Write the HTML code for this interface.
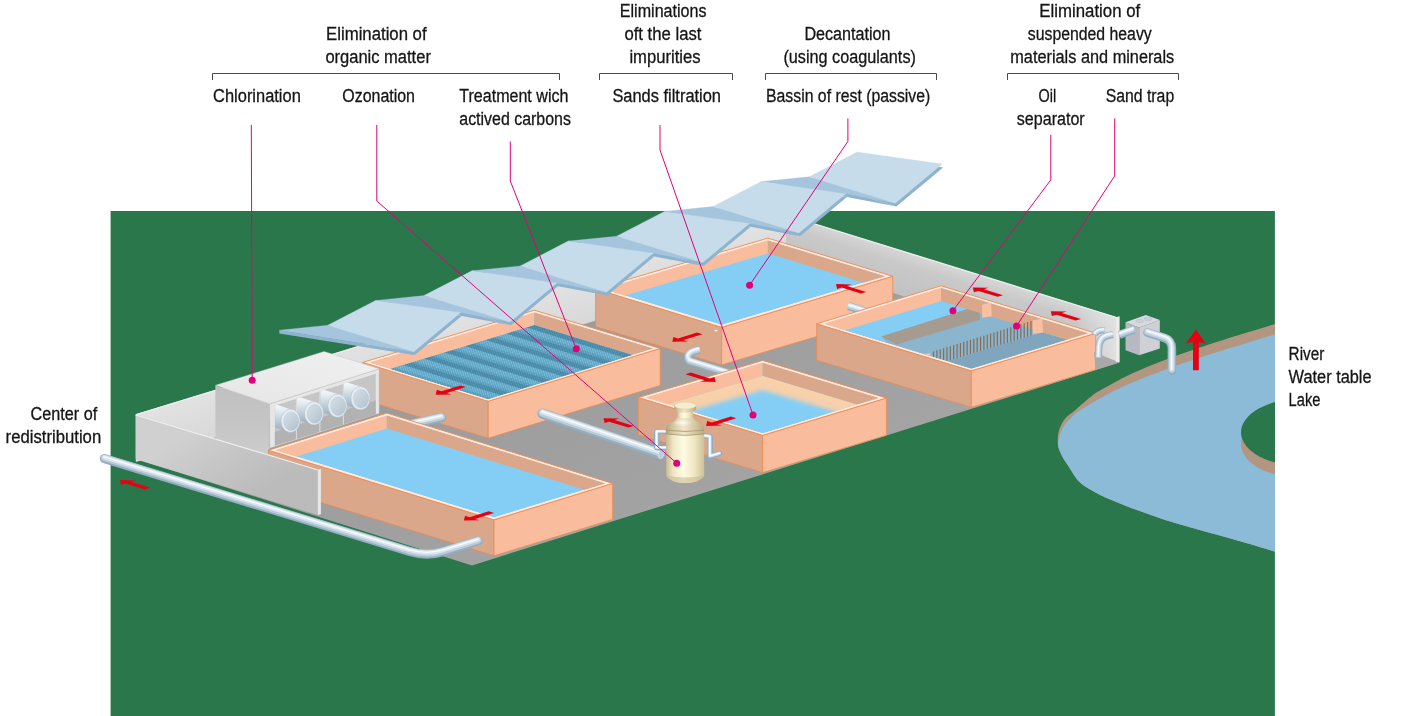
<!DOCTYPE html>
<html lang="en"><head><meta charset="utf-8"><title>Water treatment plant</title>
<style>
html,body{margin:0;padding:0;background:#fff;}
svg{display:block;}
</style></head>
<body>
<svg width="1423" height="716" viewBox="0 0 1423 716">
<defs>
<clipPath id="gclip"><rect x="110.5" y="211" width="1164.5" height="505"/></clipPath>
<clipPath id="holeclip"><path d="M1290.0,319.0 C1287.5,319.8 1282.2,321.8 1275.0,324.0 C1267.8,326.2 1256.2,329.7 1247.0,332.5 C1237.8,335.3 1231.8,337.1 1219.8,341.0 C1207.8,344.9 1188.9,351.0 1174.8,356.2 C1160.7,361.4 1146.2,367.2 1135.4,372.0 C1124.6,376.8 1117.0,381.2 1110.0,385.0 C1103.0,388.8 1099.0,390.7 1093.3,394.8 C1087.6,398.9 1080.7,405.5 1076.0,409.5 C1071.3,413.5 1067.9,415.2 1065.1,418.6 C1062.3,422.0 1060.4,426.6 1059.2,430.0 C1058.0,433.4 1057.9,436.1 1057.8,439.0 C1057.7,441.9 1057.8,444.7 1058.6,447.7 C1059.4,450.7 1060.9,453.8 1062.6,456.9 C1064.2,460.0 1065.8,462.1 1068.5,466.2 C1071.2,470.3 1075.1,477.4 1079.0,481.5 C1082.9,485.6 1087.3,487.7 1092.0,490.5 C1096.7,493.3 1100.1,495.1 1107.3,498.3 C1114.5,501.5 1126.0,506.1 1135.4,509.6 C1144.8,513.1 1154.2,516.4 1163.6,519.4 C1173.0,522.4 1182.3,525.1 1191.7,527.8 C1201.1,530.5 1210.4,533.0 1219.8,535.6 C1229.2,538.2 1238.7,540.9 1247.9,543.6 C1257.1,546.3 1268.0,549.6 1275.0,551.7 C1282.0,553.8 1287.5,555.3 1290.0,556.0 Z"/></clipPath>
<linearGradient id="platg" gradientUnits="userSpaceOnUse" x1="500" y1="300" x2="640" y2="620"><stop offset="0" stop-color="#9a9a9a"/><stop offset="1" stop-color="#a6a6a6"/></linearGradient>
<linearGradient id="bwg" x1="0" y1="0" x2="0" y2="1"><stop offset="0" stop-color="#e4e4e4"/><stop offset="1" stop-color="#d6d6d6"/></linearGradient>
<linearGradient id="bwg2" gradientUnits="userSpaceOnUse" x1="300" y1="364" x2="314" y2="410"><stop offset="0" stop-color="#e2e2e2"/><stop offset="1" stop-color="#d7d7d7"/></linearGradient>
<linearGradient id="rwg" gradientUnits="userSpaceOnUse" x1="950" y1="262" x2="936" y2="307"><stop offset="0" stop-color="#dadada"/><stop offset="0.35" stop-color="#c9c9c9"/><stop offset="1" stop-color="#c1c1c1"/></linearGradient>
<linearGradient id="rwend" gradientUnits="userSpaceOnUse" x1="1075" y1="0" x2="1116" y2="0"><stop offset="0" stop-color="#e2e2e2" stop-opacity="0"/><stop offset="1" stop-color="#e2e2e2" stop-opacity="0.95"/></linearGradient>
<clipPath id="c1"><polygon points="603.3,289.0 767.9,240.4 885.1,276.3 721.6,325.0"/></clipPath>
<clipPath id="c2"><polygon points="824.2,323.8 941.1,288.1 1088.1,333.2 971.3,368.5"/></clipPath>
<clipPath id="c3"><polygon points="370.0,362.4 534.4,312.4 653.0,348.4 488.2,399.0"/></clipPath>
<clipPath id="t2c"><polygon points="370.0,375.0 534.4,325.0 653.0,361.0 488.2,411.6"/></clipPath>
<linearGradient id="blf" x1="0" y1="0" x2="0" y2="1"><stop offset="0" stop-color="#c0c0c0"/><stop offset="0.6" stop-color="#c6c6c6"/><stop offset="1" stop-color="#cdcdcd"/></linearGradient>
<clipPath id="bopen"><polygon points="274.6,405.4 375.9,373.4 375.9,414.4 274.6,446.0"/></clipPath>
<linearGradient id="cylg" x1="0" y1="0" x2="0" y2="1"><stop offset="0" stop-color="#ffffff"/><stop offset="0.3" stop-color="#e6eef3"/><stop offset="0.7" stop-color="#b7c7d3"/><stop offset="1" stop-color="#93a9bb"/></linearGradient>
<linearGradient id="capg" x1="0" y1="0" x2="1" y2="1"><stop offset="0" stop-color="#d6e0e7"/><stop offset="1" stop-color="#b0c1ce"/></linearGradient>
<clipPath id="bay3"><rect x="343.9" y="340" width="80" height="120"/></clipPath>
<clipPath id="bay2"><rect x="320.5" y="340" width="80" height="120"/></clipPath>
<clipPath id="bay1"><rect x="297.0" y="340" width="80" height="120"/></clipPath>
<clipPath id="bay0"><rect x="275.2" y="340" width="80" height="120"/></clipPath>
<linearGradient id="btop" x1="0" y1="1" x2="1" y2="0"><stop offset="0" stop-color="#e6e6e6"/><stop offset="1" stop-color="#f0f0f0"/></linearGradient>
<filter id="blur5" x="-20%" y="-20%" width="140%" height="140%"><feGaussianBlur stdDeviation="2.6"/></filter>
<clipPath id="c4"><polygon points="645.9,397.5 762.7,362.7 878.8,398.0 762.7,433.0"/></clipPath>
<linearGradient id="vesg" x1="0" y1="0" x2="1" y2="0"><stop offset="0" stop-color="#c9ba94"/><stop offset="0.18" stop-color="#efe6c4"/><stop offset="0.45" stop-color="#fffbe4"/><stop offset="0.75" stop-color="#efe5c0"/><stop offset="1" stop-color="#cfc09a"/></linearGradient>
<linearGradient id="vesg2" x1="0" y1="0" x2="1" y2="0"><stop offset="0" stop-color="#b5a680"/><stop offset="0.2" stop-color="#d8cca6"/><stop offset="0.45" stop-color="#efe7c8"/><stop offset="0.75" stop-color="#d6c9a2"/><stop offset="1" stop-color="#b8a982"/></linearGradient>
<radialGradient id="vshine" cx="0.45" cy="0.45" r="0.5"><stop offset="0" stop-color="#ffffff" stop-opacity="0.85"/><stop offset="1" stop-color="#ffffff" stop-opacity="0"/></radialGradient>
<clipPath id="c5"><polygon points="275.7,450.2 386.9,415.4 605.2,483.4 494.0,517.5"/></clipPath>
<linearGradient id="lwg" gradientUnits="userSpaceOnUse" x1="200" y1="425" x2="250" y2="500"><stop offset="0" stop-color="#d0d0d0"/><stop offset="0.5" stop-color="#c5c5c5"/><stop offset="1" stop-color="#bbbbbb"/></linearGradient>
</defs>
<rect x="0" y="0" width="1423" height="716" fill="#ffffff"/>
<rect x="110.6" y="211" width="1164.3" height="505" fill="#2a774b"/>
<g clip-path="url(#gclip)">
<path d="M1290.0,319.0 C1287.5,319.8 1282.2,321.8 1275.0,324.0 C1267.8,326.2 1256.2,329.7 1247.0,332.5 C1237.8,335.3 1231.8,337.1 1219.8,341.0 C1207.8,344.9 1188.9,351.0 1174.8,356.2 C1160.7,361.4 1146.2,367.2 1135.4,372.0 C1124.6,376.8 1117.0,381.2 1110.0,385.0 C1103.0,388.8 1099.0,390.7 1093.3,394.8 C1087.6,398.9 1080.7,405.5 1076.0,409.5 C1071.3,413.5 1067.9,415.2 1065.1,418.6 C1062.3,422.0 1060.4,426.6 1059.2,430.0 C1058.0,433.4 1057.9,436.1 1057.8,439.0 C1057.7,441.9 1057.8,444.7 1058.6,447.7 C1059.4,450.7 1060.9,453.8 1062.6,456.9 C1064.2,460.0 1065.8,462.1 1068.5,466.2 C1071.2,470.3 1075.1,477.4 1079.0,481.5 C1082.9,485.6 1087.3,487.7 1092.0,490.5 C1096.7,493.3 1100.1,495.1 1107.3,498.3 C1114.5,501.5 1126.0,506.1 1135.4,509.6 C1144.8,513.1 1154.2,516.4 1163.6,519.4 C1173.0,522.4 1182.3,525.1 1191.7,527.8 C1201.1,530.5 1210.4,533.0 1219.8,535.6 C1229.2,538.2 1238.7,540.9 1247.9,543.6 C1257.1,546.3 1268.0,549.6 1275.0,551.7 C1282.0,553.8 1287.5,555.3 1290.0,556.0 Z" fill="#b29682" />
<g clip-path="url(#holeclip)">
<path d="M1290.0,329.6 C1287.5,330.4 1282.2,332.2 1275.0,334.4 C1267.8,336.6 1256.2,340.2 1247.0,343.0 C1237.8,345.8 1231.4,347.6 1219.8,351.3 C1208.2,355.0 1191.7,360.3 1177.6,365.3 C1163.5,370.3 1146.7,376.7 1135.4,381.3 C1124.1,385.9 1117.2,389.4 1110.0,393.0 C1102.8,396.6 1097.1,400.0 1092.0,403.0 C1086.9,406.0 1082.8,408.5 1079.4,410.8 C1076.1,413.1 1074.3,414.7 1071.9,416.9 C1069.5,419.1 1067.0,421.6 1065.1,424.2 C1063.2,426.8 1061.7,430.1 1060.6,432.6 C1059.5,435.1 1059.5,437.1 1058.7,439.3 C1057.9,441.5 1056.5,444.9 1056.0,446.0 L1040,450 L1040,570 L1290,570 Z" fill="#8bbbd7"/>
<ellipse cx="1302" cy="444.3" rx="61" ry="33.7" fill="#b29682"/>
<ellipse cx="1302" cy="432.3" rx="61" ry="33.7" fill="#2a774b"/>
</g>
</g>
<polygon points="136.0,459.0 472.0,565.4 1119.4,362.5 786.0,258.0" fill="url(#platg)" />
<polygon points="135.8,414.3 786.0,215.0 786.0,262.0 135.8,462.0" fill="url(#bwg2)" />
<path d="M135.8,414.6 L786,215.3" fill="none" stroke="#f2f2f2" stroke-width="1" />
<polygon points="786.0,215.0 1116.0,317.3 1116.0,361.8 786.0,260.0" fill="url(#rwg)" />
<polygon points="1075.0,304.6 1116.0,317.3 1116.0,361.8 1075.0,349.1" fill="url(#rwend)" />
<path d="M786,215 L1116,317.3" fill="none" stroke="#f4f4f4" stroke-width="1.2" />
<polygon points="1116.0,317.3 1119.4,316.6 1119.4,362.3 1116.0,361.8" fill="#ececec" />
<polygon points="595.6,289.0 721.6,327.3 721.6,364.9 595.6,326.6" fill="#dba78b" stroke="#ee8a50" stroke-width="0.8" stroke-linejoin="round" />
<polygon points="721.6,327.3 892.7,276.3 892.7,313.9 721.6,364.9" fill="#f9bd9d" stroke="#ee8a50" stroke-width="0.8" stroke-linejoin="round" />
<polygon points="595.6,289.0 767.9,238.1 892.7,276.3 721.6,327.3" fill="#fdebe0" stroke="#ee8a50" stroke-width="0.9" stroke-linejoin="round" />
<g clip-path="url(#c1)">
<polygon points="603.3,289.0 767.9,240.4 885.1,276.3 721.6,325.0" fill="#84cef5" />
<polygon points="600.3,288.0 767.9,238.4 767.9,253.4 603.3,302.0" fill="#f9bd9d" />
<polygon points="767.9,238.4 888.1,275.3 885.1,289.3 767.9,253.4" fill="#dba78b" />
</g>
<ellipse cx="716" cy="330.6" rx="1.7" ry="0.8" fill="#fdf3ec"/>
<path d="M848.5,306.2 L869,312.6" fill="none" stroke="#93adc1" stroke-width="8.2" stroke-linecap="butt" stroke-linejoin="round"/>
<path d="M848.5,306.2 L869,312.6" fill="none" stroke="#b9ccd9" stroke-width="6.23" stroke-linecap="butt" stroke-linejoin="round" transform="translate(-0.1,-0.74)"/>
<path d="M848.5,306.2 L869,312.6" fill="none" stroke="#dbe6ee" stroke-width="3.77" stroke-linecap="butt" stroke-linejoin="round" transform="translate(-0.2,-1.31)"/>
<path d="M848.5,306.2 L869,312.6" fill="none" stroke="#f9fbfd" stroke-width="1.23" stroke-linecap="butt" stroke-linejoin="round" transform="translate(-0.3,-1.64)"/>
<polygon points="816.7,323.8 971.3,370.8 971.3,407.3 816.7,360.3" fill="#dba78b" stroke="#ee8a50" stroke-width="0.8" stroke-linejoin="round" />
<polygon points="971.3,370.8 1095.7,333.2 1095.7,369.7 971.3,407.3" fill="#f9bd9d" stroke="#ee8a50" stroke-width="0.8" stroke-linejoin="round" />
<polygon points="816.7,323.8 941.1,285.8 1095.7,333.2 971.3,370.8" fill="#fdebe0" stroke="#ee8a50" stroke-width="0.9" stroke-linejoin="round" />
<g clip-path="url(#c2)">
<polygon points="824.2,323.8 941.1,288.1 1088.1,333.2 971.3,368.5" fill="#84cef5" />
<polygon points="824.2,336.8 941.1,301.1 1088.1,346.2 971.3,381.5" fill="#8ab5cd" />
<polygon points="824.1,333.0 941.1,300.8 968.3,309.0 881.3,336.4 886.1,341.9 846.9,348.2" fill="#84cef5" />
<polygon points="948.1,361.1 1032.2,335.3 1042.9,332.4 1069.5,340.6 970.8,371.0" fill="#7fa6bd" />
<polygon points="881.3,336.4 968.3,308.8 979.9,310.2 979.9,319.7 896.5,344.6" fill="#a59b91" />
<polygon points="821.2,322.8 941.1,286.1 941.1,301.1 824.2,336.8" fill="#f9bd9d" />
<polygon points="941.1,286.1 1091.1,332.2 1088.1,346.2 941.1,301.1" fill="#dba78b" />
<rect x="932.95" y="351.35" width="1.14" height="6.32" fill="#876a53"/>
<rect x="936.31" y="350.30" width="1.14" height="8.22" fill="#876a53"/>
<rect x="939.67" y="349.26" width="1.14" height="10.11" fill="#876a53"/>
<rect x="943.03" y="348.21" width="1.14" height="12.01" fill="#876a53"/>
<rect x="946.39" y="347.16" width="1.14" height="13.90" fill="#876a53"/>
<rect x="949.74" y="346.11" width="1.14" height="13.98" fill="#876a53"/>
<rect x="953.10" y="345.07" width="1.14" height="14.01" fill="#876a53"/>
<rect x="956.46" y="344.02" width="1.14" height="14.03" fill="#876a53"/>
<rect x="959.82" y="342.97" width="1.14" height="14.05" fill="#876a53"/>
<rect x="963.18" y="341.93" width="1.14" height="14.08" fill="#876a53"/>
<rect x="966.54" y="340.88" width="1.14" height="14.10" fill="#876a53"/>
<rect x="969.90" y="339.83" width="1.14" height="14.12" fill="#876a53"/>
<rect x="973.25" y="338.79" width="1.14" height="14.15" fill="#876a53"/>
<rect x="976.61" y="337.74" width="1.14" height="14.17" fill="#876a53"/>
<rect x="979.97" y="336.69" width="1.14" height="14.19" fill="#876a53"/>
<rect x="983.33" y="335.65" width="1.14" height="14.22" fill="#876a53"/>
<rect x="986.69" y="334.60" width="1.14" height="14.24" fill="#876a53"/>
<rect x="990.05" y="333.55" width="1.14" height="14.26" fill="#876a53"/>
<rect x="993.41" y="332.51" width="1.14" height="14.29" fill="#876a53"/>
<rect x="996.76" y="331.46" width="1.14" height="14.31" fill="#876a53"/>
<rect x="1000.12" y="330.41" width="1.14" height="14.33" fill="#876a53"/>
<rect x="1003.48" y="329.36" width="1.14" height="14.36" fill="#876a53"/>
<rect x="1006.84" y="328.32" width="1.14" height="14.38" fill="#876a53"/>
<rect x="1010.20" y="327.27" width="1.14" height="14.40" fill="#876a53"/>
<rect x="1013.56" y="326.22" width="1.14" height="14.43" fill="#876a53"/>
<rect x="1016.92" y="325.18" width="1.14" height="14.45" fill="#876a53"/>
<rect x="1020.27" y="324.13" width="1.14" height="14.48" fill="#876a53"/>
<rect x="1023.63" y="323.08" width="1.14" height="14.50" fill="#876a53"/>
<rect x="1026.99" y="322.04" width="1.14" height="14.52" fill="#876a53"/>
<rect x="1030.35" y="320.99" width="1.14" height="14.55" fill="#876a53"/>
<polygon points="982.2,304.7 991.1,302.6 991.8,316.3 982.2,317.8" fill="#f9c0a1" />
<polygon points="1032.8,320.5 1042.4,318.5 1043.1,332.4 1032.8,334.1" fill="#f9c0a1" />
<polygon points="924.0,354.3 929.7,352.9 930.7,355.8 925.3,356.0" fill="#f9c0a1" />
</g>
<polygon points="1094.0,352.0 1119.4,362.5 1095.7,370.0" fill="#a9a9a9" />
<path d="M1094.5,334.9 Q1096.1,330.4 1104.5,330.2" fill="none" stroke="#93adc1" stroke-width="6.3" stroke-linecap="butt" stroke-linejoin="round"/>
<path d="M1094.5,334.9 Q1096.1,330.4 1104.5,330.2" fill="none" stroke="#b9ccd9" stroke-width="4.79" stroke-linecap="butt" stroke-linejoin="round" transform="translate(-0.1,-0.57)"/>
<path d="M1094.5,334.9 Q1096.1,330.4 1104.5,330.2" fill="none" stroke="#dbe6ee" stroke-width="2.90" stroke-linecap="butt" stroke-linejoin="round" transform="translate(-0.2,-1.01)"/>
<path d="M1094.5,334.9 Q1096.1,330.4 1104.5,330.2" fill="none" stroke="#f9fbfd" stroke-width="0.94" stroke-linecap="butt" stroke-linejoin="round" transform="translate(-0.3,-1.26)"/>
<path d="M1098.4,358.3 L1098.7,348.0 Q1099.4,337.8 1106.8,336.0 L1112.9,334.6" fill="none" stroke="#93adc1" stroke-width="7.2" stroke-linecap="butt" stroke-linejoin="round"/>
<path d="M1098.4,358.3 L1098.7,348.0 Q1099.4,337.8 1106.8,336.0 L1112.9,334.6" fill="none" stroke="#b9ccd9" stroke-width="5.47" stroke-linecap="butt" stroke-linejoin="round" transform="translate(-0.1,-0.65)"/>
<path d="M1098.4,358.3 L1098.7,348.0 Q1099.4,337.8 1106.8,336.0 L1112.9,334.6" fill="none" stroke="#dbe6ee" stroke-width="3.31" stroke-linecap="butt" stroke-linejoin="round" transform="translate(-0.2,-1.15)"/>
<path d="M1098.4,358.3 L1098.7,348.0 Q1099.4,337.8 1106.8,336.0 L1112.9,334.6" fill="none" stroke="#f9fbfd" stroke-width="1.08" stroke-linecap="butt" stroke-linejoin="round" transform="translate(-0.3,-1.44)"/>
<polygon points="1116.0,317.3 1119.4,316.6 1119.4,362.3 1116.0,361.8" fill="#ececec" />
<polygon points="1125.5,322.3 1139.2,327.4 1139.2,355.3 1125.5,350.3" fill="#b7b8c1" />
<polygon points="1139.2,327.4 1159.8,319.9 1159.8,348.6 1139.2,355.3" fill="#cfd0d6" />
<polygon points="1125.5,322.3 1145.9,315.1 1159.8,319.9 1139.2,327.4" fill="#d9dadf" />
<ellipse cx="1139.7" cy="321.0" rx="3.9" ry="1.8" fill="#cfd0d6" stroke="#b9bac3" stroke-width="0.5"/>
<ellipse cx="1147.9" cy="319.0" rx="3.9" ry="1.8" fill="#cfd0d6" stroke="#b9bac3" stroke-width="0.5"/>
<path d="M1119.3,334.9 L1134.1,329.5" fill="none" stroke="#93adc1" stroke-width="8.0" stroke-linecap="butt" stroke-linejoin="round"/>
<path d="M1119.3,334.9 L1134.1,329.5" fill="none" stroke="#b9ccd9" stroke-width="6.08" stroke-linecap="butt" stroke-linejoin="round" transform="translate(-0.1,-0.72)"/>
<path d="M1119.3,334.9 L1134.1,329.5" fill="none" stroke="#dbe6ee" stroke-width="3.68" stroke-linecap="butt" stroke-linejoin="round" transform="translate(-0.2,-1.28)"/>
<path d="M1119.3,334.9 L1134.1,329.5" fill="none" stroke="#f9fbfd" stroke-width="1.20" stroke-linecap="butt" stroke-linejoin="round" transform="translate(-0.3,-1.60)"/>
<path d="M1147.5,332.6 L1164.9,338.2 Q1171.9,340.4 1171.9,349.2 L1171.9,370.6" fill="none" stroke="#93adc1" stroke-width="8.6" stroke-linecap="round" stroke-linejoin="round"/>
<path d="M1147.5,332.6 L1164.9,338.2 Q1171.9,340.4 1171.9,349.2 L1171.9,370.6" fill="none" stroke="#b9ccd9" stroke-width="6.54" stroke-linecap="round" stroke-linejoin="round" transform="translate(-0.1,-0.77)"/>
<path d="M1147.5,332.6 L1164.9,338.2 Q1171.9,340.4 1171.9,349.2 L1171.9,370.6" fill="none" stroke="#dbe6ee" stroke-width="3.96" stroke-linecap="round" stroke-linejoin="round" transform="translate(-0.2,-1.38)"/>
<path d="M1147.5,332.6 L1164.9,338.2 Q1171.9,340.4 1171.9,349.2 L1171.9,370.6" fill="none" stroke="#f9fbfd" stroke-width="1.29" stroke-linecap="round" stroke-linejoin="round" transform="translate(-0.3,-1.72)"/>
<polygon points="362.8,362.4 488.2,401.2 488.2,438.2 362.8,399.4" fill="#dba78b" stroke="#ee8a50" stroke-width="0.8" stroke-linejoin="round" />
<polygon points="488.2,401.2 660.2,348.4 660.2,385.4 488.2,438.2" fill="#f9bd9d" stroke="#ee8a50" stroke-width="0.8" stroke-linejoin="round" />
<polygon points="362.8,362.4 534.4,310.2 660.2,348.4 488.2,401.2" fill="#fdebe0" stroke="#ee8a50" stroke-width="0.9" stroke-linejoin="round" />
<g clip-path="url(#c3)">
<polygon points="370.0,362.4 534.4,312.4 653.0,348.4 488.2,399.0" fill="#84cef5" />
<polygon points="370.0,375.0 534.4,325.0 653.0,361.0 488.2,411.6" fill="#35708c" />
<path d="M200.0,415.6 l175.0,-91.0 M202.2,415.6 l175.0,-91.0 M204.5,415.6 l175.0,-91.0 M206.7,415.6 l175.0,-91.0 M209.0,415.6 l175.0,-91.0 M211.2,415.6 l175.0,-91.0 M213.5,415.6 l175.0,-91.0 M215.7,415.6 l175.0,-91.0 M218.0,415.6 l175.0,-91.0 M220.2,415.6 l175.0,-91.0 M222.5,415.6 l175.0,-91.0 M224.7,415.6 l175.0,-91.0 M227.0,415.6 l175.0,-91.0 M229.2,415.6 l175.0,-91.0 M231.5,415.6 l175.0,-91.0 M233.7,415.6 l175.0,-91.0 M236.0,415.6 l175.0,-91.0 M238.2,415.6 l175.0,-91.0 M240.5,415.6 l175.0,-91.0 M242.7,415.6 l175.0,-91.0 M245.0,415.6 l175.0,-91.0 M247.2,415.6 l175.0,-91.0 M249.5,415.6 l175.0,-91.0 M251.7,415.6 l175.0,-91.0 M254.0,415.6 l175.0,-91.0 M256.2,415.6 l175.0,-91.0 M258.5,415.6 l175.0,-91.0 M260.7,415.6 l175.0,-91.0 M263.0,415.6 l175.0,-91.0 M265.2,415.6 l175.0,-91.0 M267.5,415.6 l175.0,-91.0 M269.7,415.6 l175.0,-91.0 M272.0,415.6 l175.0,-91.0 M274.2,415.6 l175.0,-91.0 M276.5,415.6 l175.0,-91.0 M278.7,415.6 l175.0,-91.0 M281.0,415.6 l175.0,-91.0 M283.2,415.6 l175.0,-91.0 M285.5,415.6 l175.0,-91.0 M287.7,415.6 l175.0,-91.0 M290.0,415.6 l175.0,-91.0 M292.2,415.6 l175.0,-91.0 M294.5,415.6 l175.0,-91.0 M296.7,415.6 l175.0,-91.0 M299.0,415.6 l175.0,-91.0 M301.2,415.6 l175.0,-91.0 M303.5,415.6 l175.0,-91.0 M305.7,415.6 l175.0,-91.0 M308.0,415.6 l175.0,-91.0 M310.2,415.6 l175.0,-91.0 M312.5,415.6 l175.0,-91.0 M314.7,415.6 l175.0,-91.0 M317.0,415.6 l175.0,-91.0 M319.2,415.6 l175.0,-91.0 M321.5,415.6 l175.0,-91.0 M323.7,415.6 l175.0,-91.0 M326.0,415.6 l175.0,-91.0 M328.2,415.6 l175.0,-91.0 M330.5,415.6 l175.0,-91.0 M332.7,415.6 l175.0,-91.0 M335.0,415.6 l175.0,-91.0 M337.2,415.6 l175.0,-91.0 M339.5,415.6 l175.0,-91.0 M341.7,415.6 l175.0,-91.0 M344.0,415.6 l175.0,-91.0 M346.2,415.6 l175.0,-91.0 M348.5,415.6 l175.0,-91.0 M350.7,415.6 l175.0,-91.0 M353.0,415.6 l175.0,-91.0 M355.2,415.6 l175.0,-91.0 M357.5,415.6 l175.0,-91.0 M359.7,415.6 l175.0,-91.0 M362.0,415.6 l175.0,-91.0 M364.2,415.6 l175.0,-91.0 M366.5,415.6 l175.0,-91.0 M368.7,415.6 l175.0,-91.0 M371.0,415.6 l175.0,-91.0 M373.2,415.6 l175.0,-91.0 M375.5,415.6 l175.0,-91.0 M377.7,415.6 l175.0,-91.0 M380.0,415.6 l175.0,-91.0 M382.2,415.6 l175.0,-91.0 M384.5,415.6 l175.0,-91.0 M386.7,415.6 l175.0,-91.0 M389.0,415.6 l175.0,-91.0 M391.2,415.6 l175.0,-91.0 M393.5,415.6 l175.0,-91.0 M395.7,415.6 l175.0,-91.0 M398.0,415.6 l175.0,-91.0 M400.2,415.6 l175.0,-91.0 M402.5,415.6 l175.0,-91.0 M404.7,415.6 l175.0,-91.0 M407.0,415.6 l175.0,-91.0 M409.2,415.6 l175.0,-91.0 M411.5,415.6 l175.0,-91.0 M413.7,415.6 l175.0,-91.0 M416.0,415.6 l175.0,-91.0 M418.2,415.6 l175.0,-91.0 M420.5,415.6 l175.0,-91.0 M422.7,415.6 l175.0,-91.0 M425.0,415.6 l175.0,-91.0 M427.2,415.6 l175.0,-91.0 M429.5,415.6 l175.0,-91.0 M431.7,415.6 l175.0,-91.0 M434.0,415.6 l175.0,-91.0 M436.2,415.6 l175.0,-91.0 M438.5,415.6 l175.0,-91.0 M440.7,415.6 l175.0,-91.0 M443.0,415.6 l175.0,-91.0 M445.2,415.6 l175.0,-91.0 M447.5,415.6 l175.0,-91.0 M449.7,415.6 l175.0,-91.0 M452.0,415.6 l175.0,-91.0 M454.2,415.6 l175.0,-91.0 M456.5,415.6 l175.0,-91.0 M458.7,415.6 l175.0,-91.0 M461.0,415.6 l175.0,-91.0 M463.2,415.6 l175.0,-91.0 M465.5,415.6 l175.0,-91.0 M467.7,415.6 l175.0,-91.0 M470.0,415.6 l175.0,-91.0 M472.2,415.6 l175.0,-91.0 M474.5,415.6 l175.0,-91.0 M476.7,415.6 l175.0,-91.0 M479.0,415.6 l175.0,-91.0 M481.2,415.6 l175.0,-91.0 M483.5,415.6 l175.0,-91.0 M485.7,415.6 l175.0,-91.0 M488.0,415.6 l175.0,-91.0 M490.2,415.6 l175.0,-91.0 M492.5,415.6 l175.0,-91.0 M494.7,415.6 l175.0,-91.0 M497.0,415.6 l175.0,-91.0 M499.2,415.6 l175.0,-91.0 M501.5,415.6 l175.0,-91.0 M503.7,415.6 l175.0,-91.0 M506.0,415.6 l175.0,-91.0 M508.2,415.6 l175.0,-91.0 M510.5,415.6 l175.0,-91.0 M512.7,415.6 l175.0,-91.0 M515.0,415.6 l175.0,-91.0 M517.2,415.6 l175.0,-91.0 M519.5,415.6 l175.0,-91.0 M521.7,415.6 l175.0,-91.0 M524.0,415.6 l175.0,-91.0 M526.2,415.6 l175.0,-91.0 M528.5,415.6 l175.0,-91.0 M530.7,415.6 l175.0,-91.0 M533.0,415.6 l175.0,-91.0 M535.2,415.6 l175.0,-91.0 M537.5,415.6 l175.0,-91.0 M539.7,415.6 l175.0,-91.0 M542.0,415.6 l175.0,-91.0 M544.2,415.6 l175.0,-91.0 M546.5,415.6 l175.0,-91.0 M548.7,415.6 l175.0,-91.0 M551.0,415.6 l175.0,-91.0 M553.2,415.6 l175.0,-91.0 M555.5,415.6 l175.0,-91.0 M557.7,415.6 l175.0,-91.0 M560.0,415.6 l175.0,-91.0 M562.2,415.6 l175.0,-91.0 M564.5,415.6 l175.0,-91.0 M566.7,415.6 l175.0,-91.0 M569.0,415.6 l175.0,-91.0 M571.2,415.6 l175.0,-91.0 M573.5,415.6 l175.0,-91.0 M575.7,415.6 l175.0,-91.0 M578.0,415.6 l175.0,-91.0 M580.2,415.6 l175.0,-91.0 M582.5,415.6 l175.0,-91.0 M584.7,415.6 l175.0,-91.0 M587.0,415.6 l175.0,-91.0 M589.2,415.6 l175.0,-91.0 M591.5,415.6 l175.0,-91.0 M593.7,415.6 l175.0,-91.0 M596.0,415.6 l175.0,-91.0 M598.2,415.6 l175.0,-91.0 M600.5,415.6 l175.0,-91.0 M602.7,415.6 l175.0,-91.0 M605.0,415.6 l175.0,-91.0 M607.2,415.6 l175.0,-91.0 M609.5,415.6 l175.0,-91.0 M611.7,415.6 l175.0,-91.0 M614.0,415.6 l175.0,-91.0 M616.2,415.6 l175.0,-91.0 M618.5,415.6 l175.0,-91.0 M620.7,415.6 l175.0,-91.0 M623.0,415.6 l175.0,-91.0 M625.2,415.6 l175.0,-91.0 M627.5,415.6 l175.0,-91.0 M629.7,415.6 l175.0,-91.0 M632.0,415.6 l175.0,-91.0 M634.2,415.6 l175.0,-91.0 M636.5,415.6 l175.0,-91.0 M638.7,415.6 l175.0,-91.0 M641.0,415.6 l175.0,-91.0 M643.2,415.6 l175.0,-91.0 M645.5,415.6 l175.0,-91.0 M647.7,415.6 l175.0,-91.0 M650.0,415.6 l175.0,-91.0 M652.2,415.6 l175.0,-91.0 M654.5,415.6 l175.0,-91.0 M656.7,415.6 l175.0,-91.0 M659.0,415.6 l175.0,-91.0 M661.2,415.6 l175.0,-91.0 " stroke="#80c6e6" stroke-width="0.95" fill="none" clip-path="url(#t2c)"/>
<polygon points="382.7,371.1 390.5,368.8 508.8,405.3 500.9,407.7" fill="#2a6582" opacity="0.45"/>
<polygon points="370.0,375.0 374.1,373.8 492.3,410.4 488.2,411.6" fill="#2a6582" opacity="0.18"/>
<polygon points="403.3,364.9 411.1,362.5 529.3,399.1 521.5,401.5" fill="#2a6582" opacity="0.45"/>
<polygon points="390.5,368.8 394.6,367.5 512.9,404.1 508.8,405.3" fill="#2a6582" opacity="0.18"/>
<polygon points="423.8,358.6 431.6,356.3 549.9,392.8 542.1,395.2" fill="#2a6582" opacity="0.45"/>
<polygon points="411.1,362.5 415.2,361.3 533.4,397.8 529.3,399.1" fill="#2a6582" opacity="0.18"/>
<polygon points="444.4,352.4 452.2,350.0 570.4,386.6 562.6,389.0" fill="#2a6582" opacity="0.45"/>
<polygon points="431.6,356.3 435.7,355.0 554.0,391.6 549.9,392.8" fill="#2a6582" opacity="0.18"/>
<polygon points="464.9,346.1 472.7,343.8 591.0,380.3 583.2,382.7" fill="#2a6582" opacity="0.45"/>
<polygon points="452.2,350.0 456.3,348.8 574.5,385.3 570.4,386.6" fill="#2a6582" opacity="0.18"/>
<polygon points="485.5,339.9 493.3,337.5 611.5,374.1 603.7,376.5" fill="#2a6582" opacity="0.45"/>
<polygon points="472.7,343.8 476.8,342.5 595.1,379.1 591.0,380.3" fill="#2a6582" opacity="0.18"/>
<polygon points="506.0,333.6 513.8,331.2 632.1,367.8 624.3,370.2" fill="#2a6582" opacity="0.45"/>
<polygon points="493.3,337.5 497.4,336.2 615.6,372.8 611.5,374.1" fill="#2a6582" opacity="0.18"/>
<polygon points="526.6,327.4 534.4,325.0 652.6,361.6 644.8,364.0" fill="#2a6582" opacity="0.45"/>
<polygon points="513.8,331.2 518.0,330.0 636.2,366.6 632.1,367.8" fill="#2a6582" opacity="0.18"/>
<polygon points="367.0,361.4 534.4,310.4 534.4,325.0 370.0,375.0" fill="#f9bd9d" />
<polygon points="534.4,310.4 656.0,347.4 653.0,361.0 534.4,325.0" fill="#dba78b" />
</g>
<path d="M441.6,417.6 L410,424.6" fill="none" stroke="#93adc1" stroke-width="9.2" stroke-linecap="round" stroke-linejoin="round"/>
<path d="M441.6,417.6 L410,424.6" fill="none" stroke="#b9ccd9" stroke-width="6.99" stroke-linecap="round" stroke-linejoin="round" transform="translate(-0.1,-0.83)"/>
<path d="M441.6,417.6 L410,424.6" fill="none" stroke="#dbe6ee" stroke-width="4.23" stroke-linecap="round" stroke-linejoin="round" transform="translate(-0.2,-1.47)"/>
<path d="M441.6,417.6 L410,424.6" fill="none" stroke="#f9fbfd" stroke-width="1.38" stroke-linecap="round" stroke-linejoin="round" transform="translate(-0.3,-1.84)"/>
<polygon points="215.4,385.6 269.6,404.0 269.6,457.4 215.4,440.6" fill="url(#blf)" />
<polygon points="269.6,404.0 379.2,368.8 379.2,413.4 269.6,448.3" fill="#e6e6e6" stroke="#b0b0b0" stroke-width="0.5" stroke-linejoin="round" />
<g clip-path="url(#bopen)">
<polygon points="274.6,405.4 375.9,373.4 375.9,414.4 274.6,446.0" fill="#c6c6c6" />
<polygon points="274.6,431.9 375.9,400.4 375.9,414.4 274.6,446.0" fill="#b2b2b2" />
<line x1="296.4" y1="398.5" x2="296.4" y2="439.6" stroke="#dedede" stroke-width="1"/>
<line x1="319.9" y1="391.1" x2="319.9" y2="432.1" stroke="#dedede" stroke-width="1"/>
<line x1="343.3" y1="383.6" x2="343.3" y2="424.7" stroke="#dedede" stroke-width="1"/>
<g clip-path="url(#bay3)">
<path d="M332.4,377.8 L360.4,386.6 A9.6,11.6 0 0 1 360.4,409.8 L332.4,401.0 Z" fill="url(#cylg)"/>
</g>
<ellipse cx="360.4" cy="398.2" rx="9.6" ry="11.6" fill="#e6edf2" stroke="#a9bac7" stroke-width="0.5"/>
<ellipse cx="361.1" cy="398.7" rx="7.6" ry="9.399999999999999" fill="url(#capg)" stroke="#b5c4d0" stroke-width="0.4"/>
<g clip-path="url(#bay2)">
<path d="M309.5,385.4 L337.5,394.1 A9.6,11.6 0 0 1 337.5,417.3 L309.5,408.6 Z" fill="url(#cylg)"/>
</g>
<ellipse cx="337.5" cy="405.7" rx="9.6" ry="11.6" fill="#e6edf2" stroke="#a9bac7" stroke-width="0.5"/>
<ellipse cx="338.2" cy="406.2" rx="7.6" ry="9.399999999999999" fill="url(#capg)" stroke="#b5c4d0" stroke-width="0.4"/>
<g clip-path="url(#bay1)">
<path d="M286.0,392.9 L314.0,401.7 A9.6,11.6 0 0 1 314.0,424.9 L286.0,416.1 Z" fill="url(#cylg)"/>
</g>
<ellipse cx="314.0" cy="413.3" rx="9.6" ry="11.6" fill="#e6edf2" stroke="#a9bac7" stroke-width="0.5"/>
<ellipse cx="314.7" cy="413.8" rx="7.6" ry="9.399999999999999" fill="url(#capg)" stroke="#b5c4d0" stroke-width="0.4"/>
<g clip-path="url(#bay0)">
<path d="M262.5,400.4 L290.5,409.2 A9.6,11.6 0 0 1 290.5,432.4 L262.5,423.6 Z" fill="url(#cylg)"/>
</g>
<ellipse cx="290.5" cy="420.8" rx="9.6" ry="11.6" fill="#e6edf2" stroke="#a9bac7" stroke-width="0.5"/>
<ellipse cx="291.2" cy="421.3" rx="7.6" ry="9.399999999999999" fill="url(#capg)" stroke="#b5c4d0" stroke-width="0.4"/>
</g>
<polygon points="215.4,385.3 324.1,351.4 379.2,368.7 269.6,403.7" fill="url(#btop)" stroke="#c0c0c0" stroke-width="0.4" stroke-linejoin="round" />
<polygon points="279.3,330.2 279.3,333.5 413.8,355.0 413.8,351.7" fill="#8db3cf" />
<polygon points="376.6,303.8 425.0,298.9 511.1,325.3 461.7,315.9" fill="#8db3cf" />
<polygon points="472.9,274.1 521.3,269.2 607.4,295.6 558.0,286.2" fill="#8db3cf" />
<polygon points="569.2,244.4 617.6,239.5 703.7,265.9 654.3,256.5" fill="#8db3cf" />
<polygon points="665.5,214.7 713.9,209.8 800.0,236.2 750.6,226.8" fill="#8db3cf" />
<polygon points="761.8,185.0 810.2,180.1 896.3,206.5 846.9,197.1" fill="#8db3cf" />
<polygon points="328.7,328.6 376.6,303.8 461.7,315.9 414.8,355.0" fill="#8db3cf" />
<polygon points="425.0,298.9 472.9,274.1 558.0,286.2 511.1,325.3" fill="#8db3cf" />
<polygon points="521.3,269.2 569.2,244.4 654.3,256.5 607.4,295.6" fill="#8db3cf" />
<polygon points="617.6,239.5 665.5,214.7 750.6,226.8 703.7,265.9" fill="#8db3cf" />
<polygon points="713.9,209.8 761.8,185.0 846.9,197.1 800.0,236.2" fill="#8db3cf" />
<polygon points="810.2,180.1 858.1,155.3 943.2,167.4 896.3,206.5" fill="#8db3cf" />
<polygon points="279.3,330.2 327.7,325.3 413.8,351.7" fill="#a5c5de" stroke="#a5c5de" stroke-width="0.3" stroke-linejoin="round" />
<polygon points="375.6,300.5 424.0,295.6 510.1,322.0 460.7,312.6" fill="#a5c5de" stroke="#a5c5de" stroke-width="0.3" stroke-linejoin="round" />
<polygon points="471.9,270.8 520.3,265.9 606.4,292.3 557.0,282.9" fill="#a5c5de" stroke="#a5c5de" stroke-width="0.3" stroke-linejoin="round" />
<polygon points="568.2,241.1 616.6,236.2 702.7,262.6 653.3,253.2" fill="#a5c5de" stroke="#a5c5de" stroke-width="0.3" stroke-linejoin="round" />
<polygon points="664.5,211.4 712.9,206.5 799.0,232.9 749.6,223.5" fill="#a5c5de" stroke="#a5c5de" stroke-width="0.3" stroke-linejoin="round" />
<polygon points="760.8,181.7 809.2,176.8 895.3,203.2 845.9,193.8" fill="#a5c5de" stroke="#a5c5de" stroke-width="0.3" stroke-linejoin="round" />
<polygon points="327.7,325.3 375.6,300.5 460.7,312.6 413.8,351.7" fill="#c6dcea" stroke="#c6dcea" stroke-width="0.3" stroke-linejoin="round" />
<polygon points="424.0,295.6 471.9,270.8 557.0,282.9 510.1,322.0" fill="#c6dcea" stroke="#c6dcea" stroke-width="0.3" stroke-linejoin="round" />
<polygon points="520.3,265.9 568.2,241.1 653.3,253.2 606.4,292.3" fill="#c6dcea" stroke="#c6dcea" stroke-width="0.3" stroke-linejoin="round" />
<polygon points="616.6,236.2 664.5,211.4 749.6,223.5 702.7,262.6" fill="#c6dcea" stroke="#c6dcea" stroke-width="0.3" stroke-linejoin="round" />
<polygon points="712.9,206.5 760.8,181.7 845.9,193.8 799.0,232.9" fill="#c6dcea" stroke="#c6dcea" stroke-width="0.3" stroke-linejoin="round" />
<polygon points="809.2,176.8 857.1,152.0 942.2,164.1 895.3,203.2" fill="#c6dcea" stroke="#c6dcea" stroke-width="0.3" stroke-linejoin="round" />
<path d="M699.7,350.0 Q684.2,352.7 689.2,361.2 L731.9,374.3" fill="none" stroke="#93adc1" stroke-width="8.1" stroke-linecap="butt" stroke-linejoin="round"/>
<path d="M699.7,350.0 Q684.2,352.7 689.2,361.2 L731.9,374.3" fill="none" stroke="#b9ccd9" stroke-width="6.16" stroke-linecap="butt" stroke-linejoin="round" transform="translate(-0.1,-0.73)"/>
<path d="M699.7,350.0 Q684.2,352.7 689.2,361.2 L731.9,374.3" fill="none" stroke="#dbe6ee" stroke-width="3.73" stroke-linecap="butt" stroke-linejoin="round" transform="translate(-0.2,-1.30)"/>
<path d="M699.7,350.0 Q684.2,352.7 689.2,361.2 L731.9,374.3" fill="none" stroke="#f9fbfd" stroke-width="1.21" stroke-linecap="butt" stroke-linejoin="round" transform="translate(-0.3,-1.62)"/>
<polygon points="638.3,397.5 762.7,435.3 762.7,472.6 638.3,434.8" fill="#dba78b" stroke="#ee8a50" stroke-width="0.8" stroke-linejoin="round" />
<polygon points="762.7,435.3 886.4,398.0 886.4,435.3 762.7,472.6" fill="#f9bd9d" stroke="#ee8a50" stroke-width="0.8" stroke-linejoin="round" />
<polygon points="638.3,397.5 762.7,360.4 886.4,398.0 762.7,435.3" fill="#fdebe0" stroke="#ee8a50" stroke-width="0.9" stroke-linejoin="round" />
<g clip-path="url(#c4)">
<polygon points="645.9,397.5 762.7,362.7 878.8,398.0 762.7,433.0" fill="#84cef5" />
<polygon points="645.9,410.5 762.7,375.7 878.8,411.0 762.7,446.0" fill="#f8d0aa" />
<polygon points="674.9,416.0 762.7,390.2 850.8,416.5 762.7,444.5" fill="#84cef5" filter="url(#blur5)"/>
<polygon points="681.9,416.5 762.7,394.7 843.8,417.0 762.7,441.0" fill="#84cef5" filter="url(#blur5)"/>
<polygon points="642.9,396.5 762.7,360.7 762.7,375.7 645.9,410.5" fill="#f9bd9d" />
<polygon points="762.7,360.7 881.8,397.0 878.8,411.0 762.7,375.7" fill="#dba78b" />
</g>
<path d="M542.5,413.6 L660.8,453.8" fill="none" stroke="#93adc1" stroke-width="10.3" stroke-linecap="round" stroke-linejoin="round"/>
<path d="M542.5,413.6 L660.8,453.8" fill="none" stroke="#b9ccd9" stroke-width="7.83" stroke-linecap="round" stroke-linejoin="round" transform="translate(-0.1,-0.93)"/>
<path d="M542.5,413.6 L660.8,453.8" fill="none" stroke="#dbe6ee" stroke-width="4.74" stroke-linecap="round" stroke-linejoin="round" transform="translate(-0.2,-1.65)"/>
<path d="M542.5,413.6 L660.8,453.8" fill="none" stroke="#f9fbfd" stroke-width="1.55" stroke-linecap="round" stroke-linejoin="round" transform="translate(-0.3,-2.06)"/>
<ellipse cx="661.3" cy="453.8" rx="2.8" ry="4.9" fill="#b9cfde" stroke="#dfeaf1" stroke-width="0.5" transform="rotate(19 660.8 453.8)"/>
<path d="M664.9,431.6 L656.8,431.6 L656.8,447.8 L665.8,447.8" fill="none" stroke="#89aecb" stroke-width="5.4" stroke-linejoin="round" stroke-linecap="round"/>
<path d="M664.9,431.6 L656.8,431.6 L656.8,447.8 L665.8,447.8" fill="none" stroke="#d5e3ec" stroke-width="3.13" stroke-linejoin="round" stroke-linecap="round" transform="translate(-0.2,-0.3)"/>
<path d="M664.9,431.6 L656.8,431.6 L656.8,447.8 L665.8,447.8" fill="none" stroke="#ffffff" stroke-width="1.30" stroke-linejoin="round" stroke-linecap="round" transform="translate(-0.3,-0.4)"/>
<path d="M703.7,435.7 L710.1,436.7 L710.1,456.2 L719.7,453.5" fill="none" stroke="#89aecb" stroke-width="5.4" stroke-linejoin="round" stroke-linecap="round"/>
<path d="M703.7,435.7 L710.1,436.7 L710.1,456.2 L719.7,453.5" fill="none" stroke="#d5e3ec" stroke-width="3.13" stroke-linejoin="round" stroke-linecap="round" transform="translate(-0.2,-0.3)"/>
<path d="M703.7,435.7 L710.1,436.7 L710.1,456.2 L719.7,453.5" fill="none" stroke="#ffffff" stroke-width="1.30" stroke-linejoin="round" stroke-linecap="round" transform="translate(-0.3,-0.4)"/>
<path d="M666.2,433.8 L666.2,475.6 Q666.4,477.4 668.6,478.4 L673.4,481.2 Q685.2,485 697,481.2 L701.8,478.4 Q704,477.4 704.2,475.6 L704.2,433.8 Z" fill="url(#vesg)" />
<path d="M666.2,475.6 Q666.4,477.4 668.6,478.4 L673.4,481.2 Q685.2,485 697,481.2 L701.8,478.4 Q704,477.4 704.2,475.6 Q685.2,479.6 666.2,475.6 Z" fill="#c9bb93" opacity="0.6"/>
<path d="M677.2,417.2 Q676.6,420.4 670.4,423.4 Q666.8,425 666.4,426.6 L666.4,430.6 L704,430.6 L704,426.6 Q703.6,425 700,423.4 Q693.8,420.4 693.2,417.2 Z" fill="url(#vesg2)" />
<ellipse cx="683.5" cy="423.2" rx="9.5" ry="3.6" fill="url(#vshine)"/>
<path d="M666.1,430.2 L704.3,430.2 L704.3,434 Q685.2,436.8 666.1,434 Z" fill="url(#vesg2)" />
<path d="M666.1,430.2 Q685.2,432.8 704.3,430.2" fill="none" stroke="#9d8f6c" stroke-width="0.7" />
<path d="M666.1,434 Q685.2,436.8 704.3,434" fill="none" stroke="#9d8f6c" stroke-width="0.7" />
<path d="M677.2,409 L677.2,417.4 Q685,419.2 693.2,417.4 L693.2,409 Z" fill="url(#vesg)" />
<path d="M674.3,405.6 L674.3,409.2 A10.9,3.5 0 0 0 696.1,409.2 L696.1,405.6 Z" fill="url(#vesg2)" />
<ellipse cx="685.2" cy="405.6" rx="10.9" ry="3.5" fill="#f4edcf" stroke="#cfc29c" stroke-width="0.4"/>
<polygon points="268.3,450.2 494.0,519.8 494.0,555.8 268.3,486.2" fill="#dba78b" stroke="#ee8a50" stroke-width="0.8" stroke-linejoin="round" />
<polygon points="494.0,519.8 612.6,483.4 612.6,519.4 494.0,555.8" fill="#f9bd9d" stroke="#ee8a50" stroke-width="0.8" stroke-linejoin="round" />
<polygon points="268.3,450.2 386.9,413.1 612.6,483.4 494.0,519.8" fill="#fdebe0" stroke="#ee8a50" stroke-width="0.9" stroke-linejoin="round" />
<g clip-path="url(#c5)">
<polygon points="275.7,450.2 386.9,415.4 605.2,483.4 494.0,517.5" fill="#84cef5" />
<polygon points="272.7,449.2 386.9,413.4 386.9,428.4 275.7,463.2" fill="#f9bd9d" />
<polygon points="386.9,413.4 608.2,482.4 605.2,496.4 386.9,428.4" fill="#dba78b" />
</g>
<polygon points="135.6,414.8 317.8,469.8 317.8,515.0 135.6,459.3" fill="url(#lwg)" />
<path d="M135.6,415 L317.8,470" fill="none" stroke="#eeeeee" stroke-width="1.2" />
<polygon points="317.8,469.8 320.9,469.0 320.9,514.2 317.8,515.0" fill="#e8e8e8" />
<path d="M104.4,458.6 L409.5,551.4 Q427,556.7 443.2,551.7 L478.3,540.9" fill="none" stroke="#93adc1" stroke-width="9.1" stroke-linecap="round" stroke-linejoin="round"/>
<path d="M104.4,458.6 L409.5,551.4 Q427,556.7 443.2,551.7 L478.3,540.9" fill="none" stroke="#b9ccd9" stroke-width="6.92" stroke-linecap="round" stroke-linejoin="round" transform="translate(-0.1,-0.82)"/>
<path d="M104.4,458.6 L409.5,551.4 Q427,556.7 443.2,551.7 L478.3,540.9" fill="none" stroke="#dbe6ee" stroke-width="4.19" stroke-linecap="round" stroke-linejoin="round" transform="translate(-0.2,-1.46)"/>
<path d="M104.4,458.6 L409.5,551.4 Q427,556.7 443.2,551.7 L478.3,540.9" fill="none" stroke="#f9fbfd" stroke-width="1.36" stroke-linecap="round" stroke-linejoin="round" transform="translate(-0.3,-1.82)"/>
<polygon points="836.0,284.1 851.7,284.5 847.1,285.9 866.2,291.9 860.8,293.5 841.7,287.6 837.1,289.0" fill="#e60014" />
<polygon points="972.8,287.4 988.5,287.8 983.9,289.2 1003.0,295.2 997.6,296.8 978.5,290.9 973.9,292.3" fill="#e60014" />
<polygon points="1050.8,311.2 1066.5,311.6 1061.9,313.0 1081.0,319.0 1075.6,320.6 1056.5,314.7 1051.9,316.1" fill="#e60014" />
<polygon points="435.7,394.7 451.4,394.4 446.8,393.0 465.9,387.1 460.5,385.4 441.4,391.3 436.8,389.8" fill="#e60014" />
<polygon points="672.3,341.8 688.0,341.5 683.4,340.1 702.5,334.2 697.1,332.5 678.0,338.4 673.4,336.9" fill="#e60014" />
<polygon points="715.6,382.0 714.5,377.1 709.9,378.5 690.8,372.6 685.4,374.2 704.5,380.2 699.9,381.6" fill="#e60014" />
<polygon points="603.5,418.2 619.2,418.6 614.6,420.0 633.7,426.0 628.3,427.6 609.2,421.7 604.6,423.1" fill="#e60014" />
<polygon points="706.1,425.9 721.8,425.6 717.2,424.2 736.3,418.3 730.9,416.6 711.8,422.5 707.2,421.0" fill="#e60014" />
<polygon points="120.0,480.0 135.7,480.4 131.1,481.8 150.2,487.8 144.8,489.4 125.7,483.5 121.1,484.9" fill="#e60014" />
<polygon points="463.9,520.6 479.6,520.3 475.0,518.9 494.1,513.0 488.7,511.3 469.6,517.2 465.0,515.7" fill="#e60014" />
<polygon points="1195.9,329.5 1205.4,343.2 1198.8,342.0 1198.8,370.2 1193.0,370.2 1193.0,342.0 1186.2,343.2" fill="#e60014" />
<path d="M251.3,124.9 L252.2,380.2" fill="none" stroke="#e2007a" stroke-width="1.0"/>
<circle cx="252.2" cy="380.2" r="3.5" fill="#e2007a"/>
<path d="M376.8,124.9 L376.8,201.0 L676.7,463.2" fill="none" stroke="#e2007a" stroke-width="1.0"/>
<circle cx="676.7" cy="463.2" r="3.5" fill="#e2007a"/>
<path d="M510.3,141.6 L510.3,181.0 L576.3,348.8" fill="none" stroke="#e2007a" stroke-width="1.0"/>
<circle cx="576.3" cy="348.8" r="3.5" fill="#e2007a"/>
<path d="M660.0,124.9 L660.0,150.0 L753.0,414.9" fill="none" stroke="#e2007a" stroke-width="1.0"/>
<circle cx="753.0" cy="414.9" r="3.5" fill="#e2007a"/>
<path d="M847.9,118.4 L847.9,141.4 L749.6,285.2" fill="none" stroke="#e2007a" stroke-width="1.0"/>
<circle cx="749.6" cy="285.2" r="3.5" fill="#e2007a"/>
<path d="M1050.8,134.9 L1050.8,179.9 L952.9,310.7" fill="none" stroke="#e2007a" stroke-width="1.0"/>
<circle cx="952.9" cy="310.7" r="3.5" fill="#e2007a"/>
<path d="M1114.7,118.4 L1114.7,175.9 L1016.6,325.9" fill="none" stroke="#e2007a" stroke-width="1.0"/>
<circle cx="1016.6" cy="325.9" r="3.5" fill="#e2007a"/>
<path d="M212.5,80.0 L212.5,73.5 L559.5,73.5 L559.5,80.0" fill="none" stroke="#4a4a4a" stroke-width="1"/>
<path d="M599.5,80.0 L599.5,73.5 L732.5,73.5 L732.5,80.0" fill="none" stroke="#4a4a4a" stroke-width="1"/>
<path d="M765.5,80.0 L765.5,73.5 L936.5,73.5 L936.5,80.0" fill="none" stroke="#4a4a4a" stroke-width="1"/>
<path d="M1007.5,80.0 L1007.5,73.5 L1178.5,73.5 L1178.5,80.0" fill="none" stroke="#4a4a4a" stroke-width="1"/>
<g font-family="'Liberation Sans', sans-serif" font-size="18" fill="#151515" stroke="#151515" stroke-width="0.3" style="will-change:transform;opacity:0.999">
<text x="326.1" y="39.7" textLength="100.5" lengthAdjust="spacingAndGlyphs">Elimination of</text>
<text x="325.4" y="62.6" textLength="105.5" lengthAdjust="spacingAndGlyphs">organic matter</text>
<text x="213.1" y="102.4" textLength="87.7" lengthAdjust="spacingAndGlyphs">Chlorination</text>
<text x="342.3" y="102.4" textLength="72.7" lengthAdjust="spacingAndGlyphs">Ozonation</text>
<text x="459.3" y="102.4" textLength="109.1" lengthAdjust="spacingAndGlyphs">Treatment wich</text>
<text x="459.3" y="124.9" textLength="111.6" lengthAdjust="spacingAndGlyphs">actived carbons</text>
<text x="619.8" y="16.8" textLength="86.7" lengthAdjust="spacingAndGlyphs">Eliminations</text>
<text x="624.4" y="39.7" textLength="77.1" lengthAdjust="spacingAndGlyphs">oft the last</text>
<text x="629.4" y="62.6" textLength="71.1" lengthAdjust="spacingAndGlyphs">impurities</text>
<text x="612.4" y="102.4" textLength="108.6" lengthAdjust="spacingAndGlyphs">Sands filtration</text>
<text x="804.4" y="39.7" textLength="86.0" lengthAdjust="spacingAndGlyphs">Decantation</text>
<text x="783.4" y="62.6" textLength="132.5" lengthAdjust="spacingAndGlyphs">(using coagulants)</text>
<text x="766.0" y="102.4" textLength="164.3" lengthAdjust="spacingAndGlyphs">Bassin of rest (passive)</text>
<text x="1039.3" y="16.8" textLength="100.9" lengthAdjust="spacingAndGlyphs">Elimination of</text>
<text x="1027.8" y="39.7" textLength="123.9" lengthAdjust="spacingAndGlyphs">suspended heavy</text>
<text x="1010.3" y="62.6" textLength="163.9" lengthAdjust="spacingAndGlyphs">materials and minerals</text>
<text x="1038.6" y="102.4" textLength="17.6" lengthAdjust="spacingAndGlyphs">Oil</text>
<text x="1016.8" y="124.9" textLength="67.9" lengthAdjust="spacingAndGlyphs">separator</text>
<text x="1105.7" y="102.4" textLength="68.5" lengthAdjust="spacingAndGlyphs">Sand trap</text>
<text x="30.6" y="419.7" textLength="66.6" lengthAdjust="spacingAndGlyphs">Center of</text>
<text x="5.6" y="443.0" textLength="95.6" lengthAdjust="spacingAndGlyphs">redistribution</text>
<text x="1288.6" y="359.7" textLength="35.7" lengthAdjust="spacingAndGlyphs">River</text>
<text x="1288.6" y="382.8" textLength="83.0" lengthAdjust="spacingAndGlyphs">Water table</text>
<text x="1288.6" y="405.5" textLength="31.8" lengthAdjust="spacingAndGlyphs">Lake</text>
</g>
</svg>
</body></html>
